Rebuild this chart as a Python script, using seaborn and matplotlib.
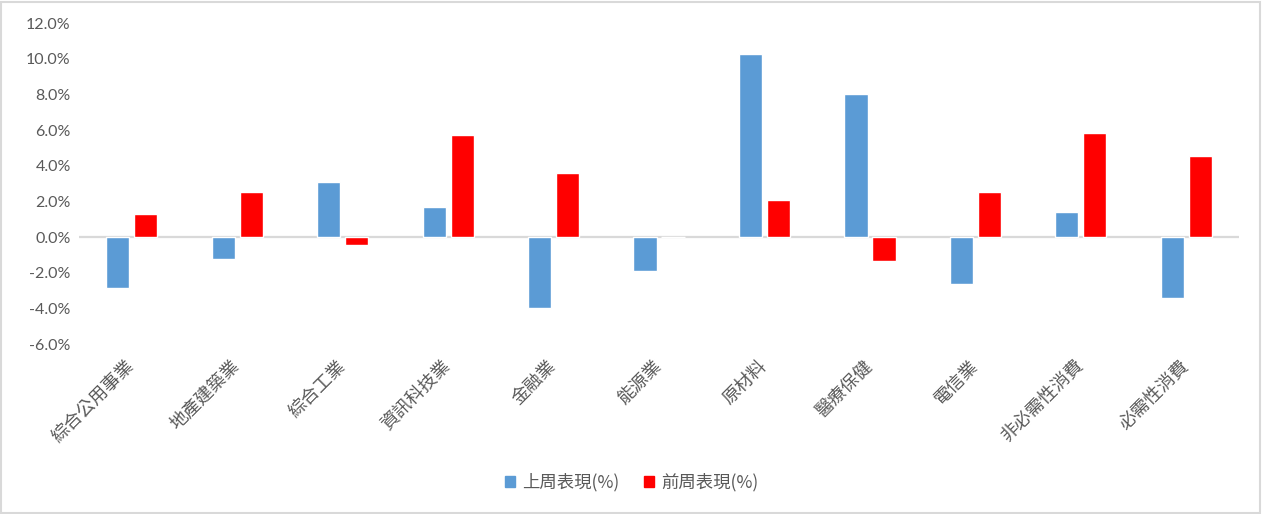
import pandas as pd
import numpy as np
import seaborn as sns
import matplotlib.pyplot as plt
from matplotlib.patches import Rectangle
from matplotlib.ticker import FuncFormatter

# sectors and weekly returns (%)
sectors = ['綜合公用事業', '地產建築業', '綜合工業', '資訊科技業', '金融業', '能源業',
           '原材料', '醫療保健', '電信業', '非必需性消費', '必需性消費']
last_week = [-2.86, -1.24, 3.09, 1.69, -4.0, -1.93, 10.28, 8.03, -2.66, 1.40, -3.44]
prev_week = [1.27, 2.53, -0.45, 5.73, 3.6, 0.0, 2.08, -1.37, 2.53, 5.84, 4.55]
series_names = ['上周表現(%)', '前周表現(%)']
colors = ['#5B9BD5', '#FF0000']

df = pd.DataFrame({
    'sector': sectors * 2,
    'value': last_week + prev_week,
    'series': [series_names[0]] * len(sectors) + [series_names[1]] * len(sectors),
})

sns.set_style('white')
plt.rcParams['font.family'] = ['Lato', 'Noto Sans CJK TC', 'DejaVu Sans']

fig = plt.figure(figsize=(12.63, 5.14), dpi=100)
ax = fig.add_axes([0.0626, 0.3307, 0.9184, 0.6243])

sns.barplot(data=df, x='sector', y='value', hue='series', palette=colors,
            width=0.53, gap=0.17, saturation=1, ax=ax, legend=False)

ax.set_ylim(-6, 12)
ax.set_yticks(np.arange(-6, 12.1, 2))
ax.yaxis.set_major_formatter(FuncFormatter(lambda v, p: f'{v:.1f}%'))
ax.axhline(0, color='#D9D9D9', lw=1.6, zorder=0.5)
sns.despine(ax=ax, left=True, bottom=True)
ax.set_xlabel('')
ax.set_ylabel('')
ax.tick_params(axis='both', length=0, colors='#595959')
ax.tick_params(axis='y', labelsize=11.5, pad=6)
ax.tick_params(axis='x', pad=14)
for lab in ax.get_xticklabels():
    lab.set_rotation(45)
    lab.set_ha('right')
    lab.set_va('center')
    lab.set_rotation_mode('anchor')
    lab.set_fontfamily(['Noto Sans CJK TC', 'DejaVu Sans'])
    lab.set_fontsize(13)

handles = [Rectangle((0, 0), 1, 1, color=c) for c in colors]
leg = fig.legend(handles, series_names, loc='center', bbox_to_anchor=(0.5, 0.062),
                 ncol=2, frameon=False, handlelength=0.6, handleheight=0.6,
                 handletextpad=0.4, columnspacing=1.4, fontsize=12.5)
for t in leg.get_texts():
    t.set_color('#595959')
    t.set_fontfamily(['Noto Sans CJK TC', 'DejaVu Sans'])

# light grey outer border
fig.patches.append(Rectangle((0.001, 0.002), 0.997, 0.995, transform=fig.transFigure,
                             fill=False, edgecolor='#D9D9D9', lw=1.5))

fig.savefig('out.png', dpi=100)
